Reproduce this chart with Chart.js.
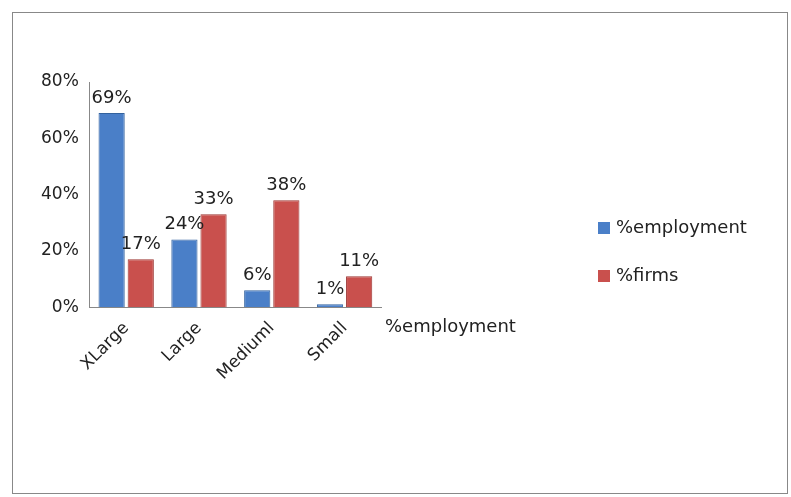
<!DOCTYPE html>
<html>
<head>
<meta charset="utf-8">
<script src="https://cdn.jsdelivr.net/npm/chart.js@4"></script>
<style>
  html, body { margin: 0; padding: 0; background: #fff; }
  #frame {
    position: absolute; left: 12px; top: 12px; width: 776px; height: 482px;
    border: 1px solid #888; box-sizing: border-box;
  }
  #wrap { position: absolute; left: 0; top: 0; width: 791px; height: 497px; }
</style>
</head>
<body>
<div id="frame"></div>
<div id="wrap"><canvas id="chart"></canvas></div>
<script>
// chart data
const categories = ["XLarge", "Large", "Mediuml", "Small"];
const employment = [69, 24, 6, 1];
const firms = [17, 33, 38, 11];

const FONT = "'DejaVu Sans', sans-serif";

// value labels above each bar + legend on the right
const extras = {
  id: "extras",
  afterDatasetsDraw(chart) {
    const ctx = chart.ctx;
    ctx.save();
    ctx.font = "18px " + FONT;
    ctx.fillStyle = "#222";
    ctx.textAlign = "center";
    ctx.textBaseline = "bottom";
    chart.data.datasets.forEach((ds, i) => {
      chart.getDatasetMeta(i).data.forEach((bar, j) => {
        ctx.fillText(ds.data[j] + "%", bar.x, bar.y - 6);
      });
    });
    // series axis label
    ctx.textAlign = "left";
    ctx.textBaseline = "middle";
    ctx.fillText("%employment", chart.chartArea.right + 4, chart.chartArea.bottom + 20);
    // legend
    chart.data.datasets.forEach((ds, i) => {
      const y = 228 + i * 48;
      ctx.fillStyle = ds.backgroundColor;
      ctx.fillRect(598, y - 6, 12, 12);
      ctx.fillStyle = "#222";
      ctx.fillText(ds.label, 616, y);
    });
    ctx.restore();
  },
};

new Chart(document.getElementById("chart").getContext("2d"), {
  type: "bar",
  data: {
    labels: categories,
    datasets: [
      {
        label: "%employment",
        data: employment,
        backgroundColor: "#4a7fc8",
        borderColor: "#33629e",
        borderWidth: 1,
      },
      {
        label: "%firms",
        data: firms,
        backgroundColor: "#c9504d",
        borderColor: "#9c3633",
        borderWidth: 1,
      },
    ],
  },
  options: {
    responsive: true,
    maintainAspectRatio: false,
    animation: false,
    layout: { padding: { top: 82, right: 410, left: 38, bottom: 110 } },
    scales: {
      x: {
        grid: { display: false },
        border: { color: "#888" },
        ticks: {
          maxRotation: 45,
          minRotation: 45,
          color: "#222",
          font: { size: 17, family: FONT },
        },
      },
      y: {
        min: 0,
        max: 80,
        grid: { display: false },
        border: { color: "#888" },
        ticks: {
          stepSize: 20,
          color: "#222",
          font: { size: 17, family: FONT },
          callback: (v) => v + "%",
        },
      },
    },
    plugins: {
      legend: { display: false },
      tooltip: { enabled: false },
    },
  },
  plugins: [extras],
});
</script>
</body>
</html>
